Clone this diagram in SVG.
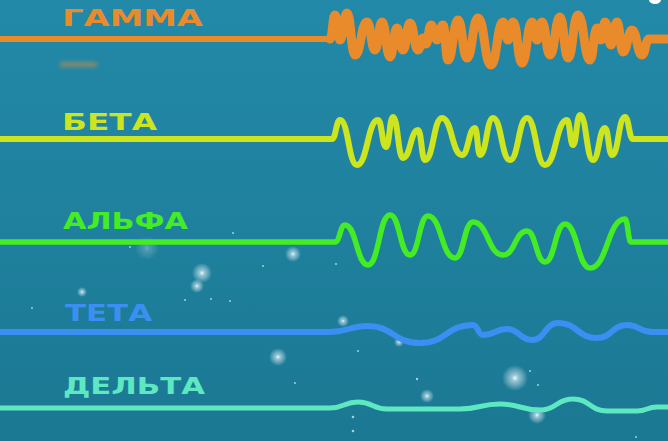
<svg xmlns="http://www.w3.org/2000/svg" width="668" height="441" viewBox="0 0 668 441">
  <defs>
    <linearGradient id="bg" x1="0" y1="0" x2="0" y2="1">
      <stop offset="0" stop-color="#2289a8"/>
      <stop offset="0.5" stop-color="#1f819e"/>
      <stop offset="1" stop-color="#1b7893"/>
    </linearGradient>
    <radialGradient id="gl">
      <stop offset="0" stop-color="#ffffff" stop-opacity="0.95"/>
      <stop offset="0.25" stop-color="#e8f8ff" stop-opacity="0.6"/>
      <stop offset="1" stop-color="#ffffff" stop-opacity="0"/>
    </radialGradient>
    <filter id="blur" x="-50%" y="-50%" width="200%" height="200%">
      <feGaussianBlur stdDeviation="2"/>
    </filter>
  </defs>
  <style>
    .lbl { font-family: "DejaVu Sans", "Liberation Sans", Arial, sans-serif; font-weight: bold; font-size: 23px; }
    .w { fill: none; stroke-linecap: round; stroke-linejoin: round; }
    .dot { fill: #d8f2ff; opacity: 0.7; }
    .glow { fill: url(#gl); }
  </style>

  <rect x="0" y="0" width="668" height="441" fill="url(#bg)"/>

  <g id="sparkles">
    <circle class="glow" cx="202" cy="273" r="10"/>
    <circle class="glow" cx="197" cy="286" r="7"/>
    <circle class="glow" cx="293" cy="254" r="8"/>
    <circle class="glow" cx="147" cy="248" r="12" opacity="0.35"/>
    <circle class="glow" cx="278" cy="357" r="9"/>
    <circle class="glow" cx="515" cy="378" r="13"/>
    <circle class="glow" cx="427" cy="396" r="7"/>
    <circle class="glow" cx="537" cy="415" r="9"/>
    <circle class="glow" cx="343" cy="321" r="6"/>
    <circle class="glow" cx="399" cy="342" r="5"/>
    <circle class="glow" cx="82" cy="292" r="5"/>
    <circle class="dot" cx="130" cy="247" r="1"/>
    <circle class="dot" cx="233" cy="233" r="1"/>
    <circle class="dot" cx="263" cy="266" r="1"/>
    <circle class="dot" cx="230" cy="301" r="1"/>
    <circle class="dot" cx="211" cy="299" r="1"/>
    <circle class="dot" cx="185" cy="300" r="1"/>
    <circle class="dot" cx="336" cy="264" r="1"/>
    <circle class="dot" cx="358" cy="351" r="1"/>
    <circle class="dot" cx="417" cy="379" r="1.2"/>
    <circle class="dot" cx="530" cy="371" r="1"/>
    <circle class="dot" cx="538" cy="385" r="1"/>
    <circle class="dot" cx="353" cy="417" r="1.3"/>
    <circle class="dot" cx="353" cy="431" r="1.3"/>
    <circle class="dot" cx="295" cy="383" r="1"/>
    <circle class="dot" cx="636" cy="437" r="1"/>
    <circle class="dot" cx="32" cy="308" r="1"/>
    <ellipse cx="655" cy="0" rx="6" ry="4" fill="#ffffff"/>
  </g>

  <rect x="60" y="62" width="37" height="5" fill="#f09030" opacity="0.5" filter="url(#blur)"/>

  <g id="gamma">
    <text class="lbl" x="62" y="26" fill="#e98a2b" textLength="141" lengthAdjust="spacingAndGlyphs">ГАММА</text>
    <path class="w" stroke="#e98a2b" stroke-width="6" d="M0,39 H330"/>
    <path class="w" stroke="#e98a2b" stroke-width="9" d="M330,39 C332.5,39 332.5,15 335,15 C337.5,15 337.5,40 340,40 C343.5,40 343.5,13 347,13 C351,13 351,55 355,55 C361,55 361,22 367,22 C371,22 371,50 375,50 C378.5,50 378.5,22 382,22 C386,22 386,57 390,57 C393.5,57 393.5,28 397,28 C400,28 400,50 403,50 C406.5,50 406.5,23 410,23 C414,23 414,50 418,50 C420.5,50 420.5,38 423,38 C424.5,38 424.5,44 426,44 C428.5,44 428.5,25 431,25 C434,25 434,40 437,40 C440,40 440,25 443,25 C445.5,25 445.5,60 448,60 C453,60 453,20 458,20 C462.5,20 462.5,58 467,58 C472.5,58 472.5,18 478,18 C484.5,18 484.5,65 491,65 C497,65 497,22 503,22 C505.5,22 505.5,40 508,40 C510.5,40 510.5,22 513,22 C517.5,22 517.5,63 522,63 C527,63 527,22 532,22 C534.5,22 534.5,40 537,40 C539.5,40 539.5,22 542,22 C546,22 546,55 550,55 C555,55 555,17 560,17 C564,17 564,58 568,58 C573,58 573,15 578,15 C584,15 584,60 590,60 C593.5,60 593.5,28 597,28 C599,28 599,40 601,40 C603,40 603,22 605,22 C608,22 608,45 611,45 C614,45 614,22 617,22 C620,22 620,52 623,52 C627.5,52 627.5,30 632,30 C637,30 637,55 642,55 C645.5,55 645.5,39 649,39 H668"/>
  </g>

  <g id="beta">
    <text class="lbl" x="62" y="130" fill="#cde51f" textLength="95" lengthAdjust="spacingAndGlyphs">БЕТА</text>
    <path class="w" stroke="#cde51f" stroke-width="6" d="M0,139 H332 C336,139 336,120 340,120 C348.5,120 348.5,165 357,165 C367.5,165 367.5,120 378,120 C382,120 382,147 386,147 C389.5,147 389.5,117 393,117 C398,117 398,158 403,158 C410.5,158 410.5,130 418,130 C421.5,130 421.5,160 425,160 C433.5,160 433.5,118 442,118 C452,118 452,155 462,155 C468.5,155 468.5,128 475,128 C477.5,128 477.5,155 480,155 C486.5,155 486.5,118 493,118 C501.5,118 501.5,160 510,160 C518.5,160 518.5,118 527,118 C536,118 536,165 545,165 C556,165 556,120 567,120 C570,120 570,145 573,145 C576.5,145 576.5,115 580,115 C586.5,115 586.5,160 593,160 C599,160 599,128 605,128 C608.5,128 608.5,155 612,155 C618.5,155 618.5,117 625,117 C629,117 629,139 633,139 H668"/>
  </g>

  <g id="alpha">
    <text class="lbl" x="63" y="229" fill="#44ec24" textLength="125" lengthAdjust="spacingAndGlyphs">АЛЬФА</text>
    <path class="w" stroke="#44ec24" stroke-width="5.5" d="M0,242 H335 C340,242 340,225 345,225 C356.5,225 356.5,265 368,265 C379,265 379,215 390,215 C400,215 400,255 410,255 C419,255 419,216 428,216 C441.5,216 441.5,258 455,258 C464,258 464,222 473,222 C488,222 488,255 503,255 C515,255 515,231 527,231 C536,231 536,262 545,262 C555,262 555,224 565,224 C577.5,224 577.5,268 590,268 C607.5,268 607.5,219 625,219 C628,219 628,242 631,242 H668"/>
  </g>

  <g id="theta">
    <text class="lbl" x="65" y="321" fill="#3b8ff2" textLength="87" lengthAdjust="spacingAndGlyphs">ТЕТА</text>
    <path class="w" stroke="#3b8ff2" stroke-width="6" d="M0,332 H330 C348.5,332 348.5,326 367,326 C393.5,326 393.5,343 420,343 C446.5,343 446.5,325 473,325 C478,325 478,335 483,335 C495,335 495,329 507,329 C519.5,329 519.5,340 532,340 C545,340 545,323 558,323 C577.5,323 577.5,338 597,338 C612,338 612,325 627,325 C639.5,325 639.5,332 652,332 H668"/>
  </g>

  <g id="delta">
    <text class="lbl" x="63" y="394" fill="#5ee8c2" textLength="142" lengthAdjust="spacingAndGlyphs">ДЕЛЬТА</text>
    <path class="w" stroke="#5ee8c2" stroke-width="5" d="M0,408 H330 C344,408 344,402 358,402 C372.5,402 372.5,409 387,409 L460,409 C480,409 480,404 500,404 C520,404 520,410 540,410 C556.5,410 556.5,399 573,399 C590,399 590,411 607,411 L637,411 C647,411 647,407 657,407 H668"/>
  </g>
</svg>
